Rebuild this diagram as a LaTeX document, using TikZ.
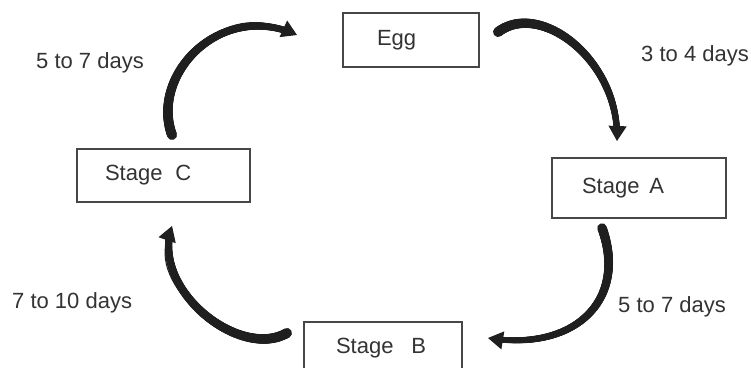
\documentclass[tikz,border=0pt]{standalone}
\usepackage{fontspec}
\setmainfont{Liberation Sans}
\usetikzlibrary{decorations.markings,arrows.meta}
\tikzset{
  stagebox/.style={draw=black!72, line width=1.3pt, inner ysep=0pt, align=left,
    font=\fontsize{22}{26}\selectfont, text=black!80},
  lbl/.style={font=\fontsize{22}{26}\selectfont, inner sep=0pt, anchor=base west, text=black!80},
  brush/.style 2 args={draw=black!88, line width=1pt, -{Triangle[length=15pt,width=18pt]},
    postaction={decorate}, decoration={markings,
    mark=between positions 0 and 0.94 step 0.6pt with {%
      \pgfmathsetmacro\brr{(#1+(#2-#1)*\pgfkeysvalueof{/pgf/decoration/mark info/distance from start}/\pgfdecoratedpathlength)/2}%
      \fill[black!88] (0,0) circle[radius=\brr pt];}}}
}
\begin{document}
\begin{tikzpicture}[x=1pt,y=-1pt]
\useasboundingbox (0,0) rectangle (751,367);
\clip (0,0) rectangle (751,367);
\fill[white] (0,0) rectangle (751,367);

\node[stagebox, inner xsep=34pt, text width=68pt, minimum height=54pt] (egg) at (411,40) {Egg};
\node[stagebox, inner xsep=30pt, text width=114pt, minimum height=60pt] (sa) at (639,188) {Stage\hspace{10pt}A};
\node[stagebox, inner xsep=32pt, text width=94pt, minimum height=53pt] (sb) at (383,348.5) {Stage\hspace{18pt}B};
\node[stagebox, inner xsep=28pt, text width=117pt, minimum height=53pt] (sc) at (163.5,175.5) {Stage\hspace{13pt}C};

\node[lbl] (l1) at (36,68) {5 to 7 days};
\node[lbl] (l2) at (641,61) {3 to 4 days};
\node[lbl] (l3) at (12,308) {7 to 10 days};
\node[lbl] (l4) at (618,312) {5 to 7 days};

\coordinate (a1s) at (172,135);
\coordinate (a1e) at (297,35);
\coordinate (a2s) at (498,32);
\coordinate (a2e) at (617,141);
\coordinate (a3s) at (602,228);
\coordinate (a3e) at (488,338);
\coordinate (a4s) at (287,333);
\coordinate (a4e) at (172,226);

\draw[brush={10}{6.5}] (a1s) .. controls (150,75) and (220,0) .. (a1e);
\draw[brush={10}{6}] (a2s) .. controls (540,0) and (620,60) .. (a2e);
\draw[brush={9.5}{5.5}] (a3s) .. controls (628,300) and (575,352) .. (a3e);
\draw[brush={10}{7}] (a4s) .. controls (240,360) and (150,290) .. (a4e);
\end{tikzpicture}
\end{document}
